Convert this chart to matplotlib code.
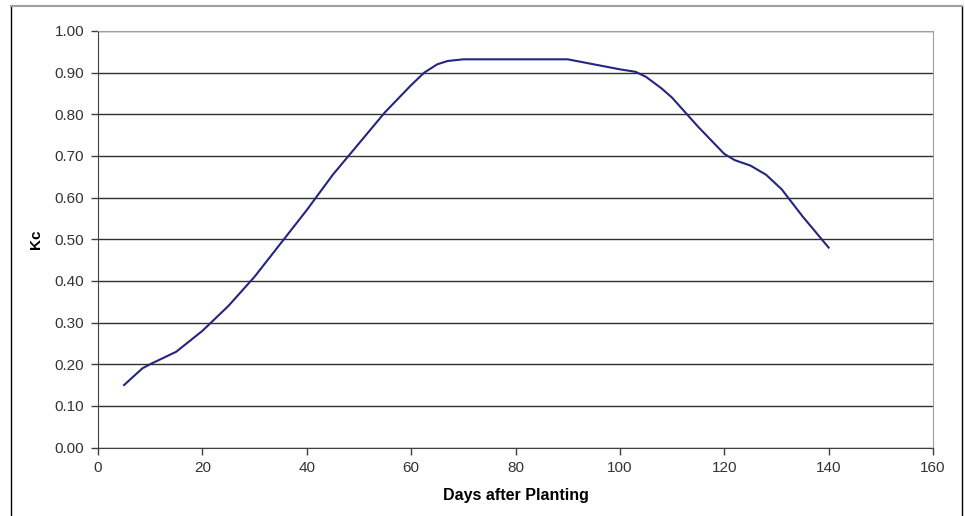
import matplotlib
matplotlib.use("Agg")
import matplotlib.pyplot as plt
from matplotlib.lines import Line2D

plt.rcParams['font.family'] = ['Liberation Sans', 'DejaVu Sans']

# Kc curve (roughly every 5 days, plus a few bends)
days = [5, 8.5, 10, 15, 20, 25, 30, 35, 40, 45, 50, 55, 60, 62.5, 65, 67,
        70, 75, 80, 85, 90, 95, 100, 103, 105, 108, 110, 115, 120, 122,
        125, 128, 131, 135, 140]
kc = [0.15, 0.19, 0.20, 0.23, 0.28, 0.34, 0.41, 0.49, 0.57, 0.655, 0.73,
      0.805, 0.87, 0.90, 0.92, 0.928, 0.932, 0.932, 0.932, 0.932, 0.932,
      0.92, 0.908, 0.902, 0.89, 0.862, 0.84, 0.77, 0.705, 0.69, 0.677,
      0.655, 0.62, 0.555, 0.48]

x_ticks = [0, 20, 40, 60, 80, 100, 120, 140, 160]
y_ticks = [0.0, 0.1, 0.2, 0.3, 0.4, 0.5, 0.6, 0.7, 0.8, 0.9, 1.0]

fig = plt.figure(figsize=(9.65, 5.16), dpi=100)
ax = fig.add_axes([98 / 965, 1 - 447.5 / 516, (933 - 98) / 965, (447.5 - 31) / 516])

# outer chart frame
fig.add_artist(Line2D([11 / 965, 11 / 965], [0, 1 - 6 / 516], color='black', lw=1))
fig.add_artist(Line2D([962 / 965, 962 / 965], [0, 1 - 6 / 516], color='black', lw=1))
fig.add_artist(Line2D([11 / 965, 962 / 965], [1 - 6 / 516, 1 - 6 / 516], color='#a0a0a0', lw=1.5))

ax.plot(days, kc, color='#25257f', lw=1.5, zorder=3)

ax.set_xlim(0, 160)
ax.set_ylim(0, 1.0)
ax.set_xticks(x_ticks)
ax.set_yticks(y_ticks)
ax.set_yticklabels(['%.2f' % v for v in y_ticks])
ax.yaxis.grid(True, color='#303030', lw=1)
ax.set_axisbelow(True)

for s in ['top', 'right']:
    ax.spines[s].set_color('#a0a0a0')
for s in ['left', 'bottom']:
    ax.spines[s].set_color('#404040')
ax.tick_params(direction='out', length=5, width=1, color='#404040',
               labelsize=11, labelcolor='#333333', pad=5)

ax.set_xlabel('Days after Planting', fontsize=11.5, fontweight='bold', labelpad=9)
ax.set_ylabel('Kc', fontsize=11, fontweight='bold', labelpad=8)

fig.savefig('out.png', dpi=100)
